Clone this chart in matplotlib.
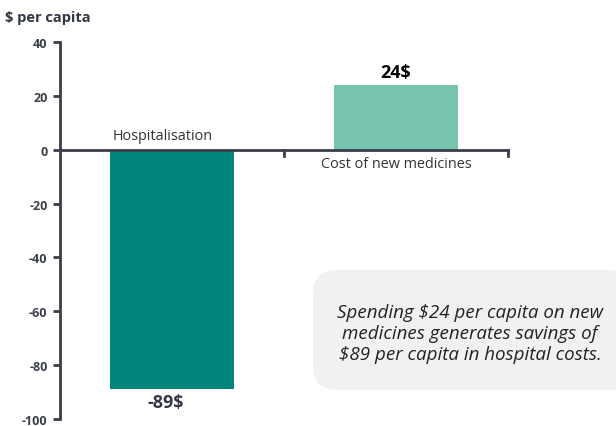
import numpy as np
import matplotlib
matplotlib.use("Agg")
import matplotlib.pyplot as plt
from matplotlib.patches import FancyBboxPatch

# data
categories = ["Hospitalisation", "Cost of new medicines"]
values = [-89, 24]
value_labels = ["-89$", "24$"]
colors = ["#00857a", "#76c4ad"]
yticks = [40, 20, 0, -20, -40, -60, -80, -100]

plt.rcParams['font.family'] = ['Open Sans', 'DejaVu Sans']
axis_col = "#3b3f4a"

fig = plt.figure(figsize=(6.16, 4.27), dpi=100)
ax = fig.add_axes([60/616, 7/427, 448/616, 377/427])

x = np.arange(len(categories))
width = 0.55
bars = ax.bar(x, values, width=width, color=colors, zorder=2)

ax.set_xlim(-0.5, 1.5)
ax.set_ylim(-100, 40)

# spines
for s in ["top", "right", "bottom"]:
    ax.spines[s].set_visible(False)
ax.spines["left"].set_color(axis_col)
ax.spines["left"].set_linewidth(2)
ax.axhline(0, color=axis_col, lw=2, zorder=3, clip_on=False)

ax.set_yticks(yticks)
ax.set_yticklabels([str(t) for t in yticks], fontsize=9, fontweight="bold", color=axis_col)
ax.tick_params(axis="y", length=5, width=2, color=axis_col, pad=4)
ax.set_xticks([])

# boundary ticks on the zero line
for xb in [0.5, 1.5]:
    ax.plot([xb, xb], [0, -2.2], color=axis_col, lw=2, zorder=3, clip_on=False)

# category labels
ax.text(0 - width/2 + 0.01, 2.5, categories[0], ha="left", va="bottom", fontsize=10.4, color="#333333")
ax.text(1, -2.5, categories[1], ha="center", va="top", fontsize=10.4, color="#333333")

# value labels
ax.text(-0.03, values[0] - 1.5, value_labels[0].replace("$", r"\$"), ha="center", va="top",
        fontsize=13, fontweight="bold", color="#333745")
ax.text(1, values[1] + 1.5, value_labels[1].replace("$", r"\$"), ha="center", va="bottom",
        fontsize=13, fontweight="bold", color="black")

# y-axis title
fig.text(5/616, 1 - 18/427, r"\$ per capita", ha="left", va="center",
         fontsize=10.5, fontweight="bold", color="#333745")

# annotation box
box = FancyBboxPatch((313/616, 1 - 391/427), 320/616, 120/427,
                     boxstyle="round,pad=0,rounding_size=0.04",
                     transform=fig.transFigure, facecolor="#f2f1f0", edgecolor="none",
                     zorder=0, mutation_aspect=616/427)
fig.patches.append(box)
fig.text(470/616, 1 - 334/427,
         "Spending \\$24 per capita on new\nmedicines generates savings of\n\\$89 per capita in hospital costs.",
         ha="center", va="center", fontsize=13.5, style="italic", color="#222222",
         linespacing=1.22)

fig.savefig("out.png", dpi=100)
